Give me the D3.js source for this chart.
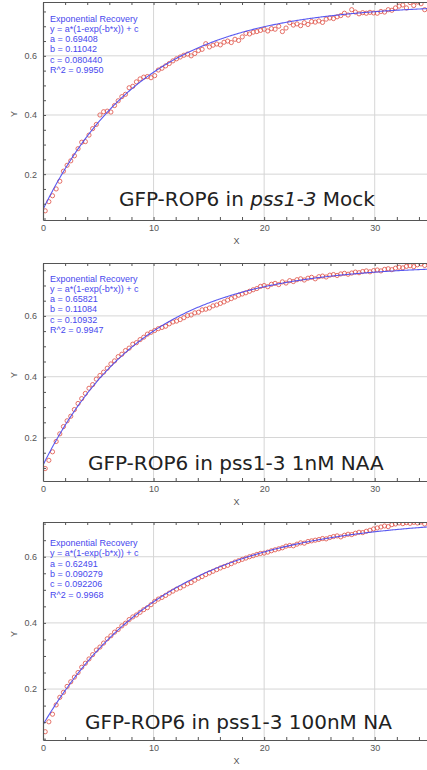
<!DOCTYPE html>
<html>
<head>
<meta charset="utf-8">
<script src="https://cdn.jsdelivr.net/npm/d3@7"></script>
<style>
  body { margin: 0; background: #fff; }
  svg { display: block; }
</style>
</head>
<body>
<script>
// FRAP recovery traces, one frame every 0.33 s starting at 0.2 s
const frameStep = 0.33
const firstFrame = 0.2

const mockY = [
  0.076, 0.107, 0.127, 0.150, 0.176, 0.210, 0.230, 0.245, 0.262, 0.286,
  0.308, 0.310, 0.332, 0.354, 0.368, 0.400, 0.411, 0.413, 0.410, 0.432,
  0.448, 0.462, 0.470, 0.492, 0.497, 0.512, 0.522, 0.528, 0.530, 0.526,
  0.533, 0.552, 0.558, 0.566, 0.574, 0.583, 0.590, 0.596, 0.602, 0.606,
  0.600, 0.608, 0.618, 0.622, 0.641, 0.630, 0.636, 0.640, 0.637, 0.646,
  0.650, 0.645, 0.656, 0.652, 0.664, 0.676, 0.674, 0.680, 0.682, 0.686,
  0.690, 0.684, 0.692, 0.690, 0.700, 0.682, 0.694, 0.712, 0.704, 0.708,
  0.702, 0.712, 0.706, 0.716, 0.714, 0.718, 0.713, 0.724, 0.728, 0.726,
  0.732, 0.736, 0.744, 0.738, 0.756, 0.748, 0.742, 0.746, 0.744, 0.747,
  0.745, 0.744, 0.750, 0.748, 0.756, 0.754, 0.762, 0.768, 0.772, 0.762,
  0.780, 0.770, 0.782, 0.776, 0.756
]

const naa1Y = [
  0.098, 0.125, 0.153, 0.187, 0.212, 0.236, 0.255, 0.270, 0.292, 0.312,
  0.328, 0.345, 0.362, 0.374, 0.392, 0.404, 0.415, 0.428, 0.442, 0.452,
  0.466, 0.474, 0.486, 0.494, 0.507, 0.512, 0.522, 0.530, 0.540, 0.546,
  0.552, 0.558, 0.562, 0.566, 0.574, 0.580, 0.583, 0.588, 0.594, 0.601,
  0.603, 0.610, 0.612, 0.620, 0.622, 0.626, 0.633, 0.636, 0.641, 0.646,
  0.652, 0.657, 0.662, 0.668, 0.672, 0.676, 0.681, 0.686, 0.690, 0.697,
  0.700, 0.696, 0.704, 0.707, 0.703, 0.712, 0.708, 0.716, 0.713, 0.719,
  0.722, 0.718, 0.724, 0.727, 0.722, 0.729, 0.731, 0.728, 0.734, 0.736,
  0.733, 0.738, 0.740, 0.737, 0.741, 0.744, 0.742, 0.746, 0.748, 0.745,
  0.749, 0.751, 0.748, 0.753, 0.755, 0.752, 0.757, 0.760, 0.758, 0.763,
  0.765, 0.762, 0.768, 0.771, 0.766
]

const naa100Y = [
  0.071, 0.101, 0.124, 0.152, 0.175, 0.190, 0.208, 0.222, 0.236, 0.250,
  0.266, 0.278, 0.291, 0.304, 0.318, 0.327, 0.339, 0.352, 0.361, 0.372,
  0.380, 0.391, 0.399, 0.410, 0.418, 0.424, 0.432, 0.440, 0.446, 0.455,
  0.465, 0.472, 0.477, 0.483, 0.490, 0.496, 0.502, 0.506, 0.512, 0.518,
  0.522, 0.529, 0.535, 0.540, 0.546, 0.551, 0.556, 0.561, 0.566, 0.570,
  0.574, 0.579, 0.584, 0.588, 0.592, 0.596, 0.600, 0.603, 0.607, 0.610,
  0.611, 0.614, 0.618, 0.621, 0.624, 0.627, 0.632, 0.634, 0.633, 0.638,
  0.642, 0.641, 0.646, 0.648, 0.650, 0.652, 0.655, 0.654, 0.658, 0.661,
  0.663, 0.660, 0.665, 0.668, 0.667, 0.671, 0.674, 0.673, 0.677, 0.680,
  0.684, 0.687, 0.690, 0.693, 0.691, 0.697, 0.699, 0.702, 0.700, 0.703,
  0.701, 0.704, 0.702, 0.705, 0.699
]

// fitted y = a*(1-exp(-b*x)) + c, as printed
const paramA = ["0.69408", "0.65821", "0.62491"]
const paramB = ["0.11042", "0.11084", "0.090279"]
const paramC = ["0.080440", "0.10932", "0.092206"]
const rSquared = ["0.9950", "0.9947", "0.9968"]

const captions = [
  [["GFP-ROP6 in ", false], ["pss1-3", true], [" Mock", false]],
  [["GFP-ROP6 in pss1-3 1nM NAA", false]],
  [["GFP-ROP6 in pss1-3 100nM NA", false]]
]

const xTickLabels = [0, 10, 20, 30]
const yTickLabels = [0.2, 0.4, 0.6]
const yRanges = [[0.045, 0.782], [0.057, 0.774], [0.046, 0.705]]

const series = [mockY, naa1Y, naa100Y]

// panel placement
const panels = [
  {top: 2,   noteTop: 21.5,  capX: 119, capY: 205.5},
  {top: 263, noteTop: 281.5, capX: 88,  capY: 469.5},
  {top: 522, noteTop: 546,   capX: 85,  capY: 729}
]
const plotH = 218
const left = 43
const right = 430

const labelFont = "'Liberation Sans', Arial, sans-serif"
const axisColor = "#555"
const gridColor = "#d6d6d6"
const fitColor = "#4848ee"
const pointColor = "#e0584e"

const svg = d3.select("body").append("svg")
  .attr("width", 427)
  .attr("height", 770)

const x = d3.scaleLinear().domain([0, 35]).range([left, right])

series.forEach(function(values, p) {
  const panel = panels[p]
  const bottom = panel.top + plotH
  const y = d3.scaleLinear().domain(yRanges[p]).range([bottom, panel.top])
  const a = +paramA[p], b = +paramB[p], c = +paramC[p]

  const g = svg.append("g").attr("class", "panel panel" + p)

  g.append("clipPath")
    .attr("id", "clip" + p)
    .append("rect")
    .attr("x", left).attr("y", panel.top)
    .attr("width", right - left).attr("height", plotH)

  // grid
  g.selectAll(".gx")
    .data(xTickLabels.filter(d => d > 0))
    .enter().append("line")
    .attr("x1", d => x(d)).attr("x2", d => x(d))
    .attr("y1", panel.top).attr("y2", bottom)
    .attr("stroke", gridColor).attr("stroke-width", 1)
  g.selectAll(".gy")
    .data(yTickLabels)
    .enter().append("line")
    .attr("x1", left).attr("x2", right)
    .attr("y1", d => y(d)).attr("y2", d => y(d))
    .attr("stroke", gridColor).attr("stroke-width", 1)

  const plot = g.append("g").attr("clip-path", `url(#clip${p})`)

  plot.selectAll("circle")
    .data(values)
    .enter().append("circle")
    .attr("cx", (d, i) => x(firstFrame + i * frameStep))
    .attr("cy", d => y(d))
    .attr("r", 2.1)
    .attr("fill", "none")
    .attr("stroke", pointColor)
    .attr("stroke-opacity", 0.85)
    .attr("stroke-width", 1)

  const fit = d3.line()
    .x(d => x(d))
    .y(d => y(a * (1 - Math.exp(-b * d)) + c))
  plot.append("path")
    .attr("d", fit(d3.range(0, 35.05, 0.1)))
    .attr("fill", "none")
    .attr("stroke", fitColor)
    .attr("stroke-width", 1.1)
    .attr("stroke-opacity", 0.9)

  // frame with inward ticks
  const minorX = d3.range(0, 36, 2)
  const minorY = d3.range(1, 16).map(k => k * 0.05)
    .filter(d => d >= yRanges[p][0] && d <= yRanges[p][1])
  const isMajorY = d => Math.round(d * 100) % 20 === 0

  const xAxis = d3.axisBottom(x).tickValues(minorX).tickSizeInner(-3).tickSizeOuter(0)
    .tickPadding(5).tickFormat(d => xTickLabels.includes(d) ? d : "")
  const yAxis = d3.axisLeft(y).tickValues(minorY).tickSizeInner(-3).tickSizeOuter(0)
    .tickPadding(6).tickFormat(d => isMajorY(d) ? d3.format(".1f")(d) : "")

  g.append("g").attr("transform", `translate(0,${bottom})`).call(xAxis)
  g.append("g").attr("transform", `translate(0,${panel.top})`)
    .call(d3.axisTop(x).tickValues(minorX).tickSizeInner(-3).tickSizeOuter(0).tickFormat(""))
  g.append("g").attr("transform", `translate(${left},0)`).call(yAxis)
  g.append("g").attr("transform", `translate(${right},0)`)
    .call(d3.axisRight(y).tickValues(minorY).tickSizeInner(-3).tickSizeOuter(0).tickFormat(""))

  g.selectAll(".domain").attr("stroke", axisColor).attr("stroke-width", 1.2)
  g.selectAll(".tick line").attr("stroke", axisColor)
  g.selectAll(".tick text")
    .attr("fill", axisColor)
    .style("font-family", labelFont)
    .style("font-size", "9px")

  g.append("text")
    .attr("x", x(17.5)).attr("y", bottom + 23.5)
    .attr("text-anchor", "middle")
    .attr("fill", axisColor)
    .style("font-family", labelFont).style("font-size", "9px")
    .text("X")
  g.append("text")
    .attr("transform", `translate(17,${panel.top + plotH / 2 + 3}) rotate(-90)`)
    .attr("text-anchor", "middle")
    .attr("fill", axisColor)
    .style("font-family", labelFont).style("font-size", "9px")
    .text("Y")

  // fit summary
  const note = [
    "Exponential Recovery",
    "y = a*(1-exp(-b*x)) + c",
    "a = " + paramA[p],
    "b = " + paramB[p],
    "c = " + paramC[p],
    "R^2 = " + rSquared[p]
  ]
  g.append("text")
    .attr("fill", fitColor)
    .style("font-family", labelFont).style("font-size", "9px")
    .selectAll("tspan")
    .data(note)
    .enter().append("tspan")
    .attr("x", 50)
    .attr("y", (d, i) => panel.noteTop + i * 10.3)
    .text(d => d)

  // condition caption
  g.append("text")
    .attr("x", panel.capX).attr("y", panel.capY)
    .attr("fill", "#222")
    .style("font-family", "'DejaVu Sans', sans-serif").style("font-size", "20px")
    .selectAll("tspan")
    .data(captions[p])
    .enter().append("tspan")
    .style("font-style", d => d[1] ? "italic" : "normal")
    .text(d => d[0])
})
</script>
</body>
</html>
